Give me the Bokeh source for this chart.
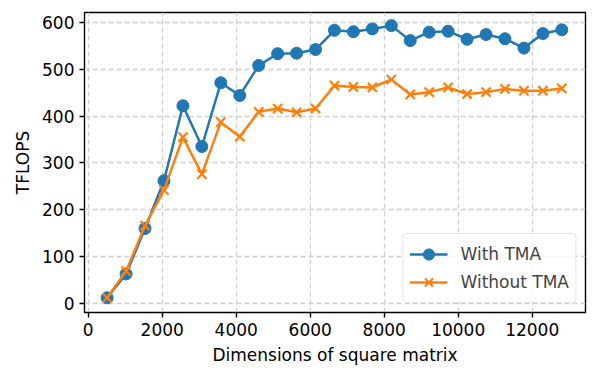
from bokeh.plotting import figure
from bokeh.models import FixedTicker, Range1d
from bokeh.embed import file_html
from bokeh.resources import INLINE

sizes = [512 * i for i in range(1, 26)]
with_tma = [12, 63, 160, 262, 422, 335, 471, 444, 508, 533, 534, 542, 583, 580,
            586, 593, 561, 579, 581, 564, 574, 565, 545, 576, 584]
without_tma = [12, 69, 166, 242, 355, 276, 387, 356, 409, 416, 408, 416, 465, 462,
               461, 478, 446, 451, 461, 447, 451, 458, 454, 454, 459]
x_ticks = [0, 2000, 4000, 6000, 8000, 10000, 12000]
y_ticks = [0, 100, 200, 300, 400, 500, 600]

BLUE = "#1f77b4"
ORANGE = "#ff7f0e"
FONT = "DejaVu Sans"
FS = "17px"

p = figure(width=597, height=375, output_backend="svg",
           toolbar_location=None,
           x_range=Range1d(-100, 13440), y_range=Range1d(-19.3, 621),
           min_border_left=84, min_border_right=12, min_border_top=12,
           min_border_bottom=63)

p.line(sizes, with_tma, color=BLUE, line_width=2.5, legend_label="With TMA")
p.scatter(sizes, with_tma, marker="circle", size=12, color=BLUE,
          legend_label="With TMA")
p.line(sizes, without_tma, color=ORANGE, line_width=2.5, legend_label="Without TMA")
p.scatter(sizes, without_tma, marker="x", size=13, line_color=ORANGE,
          line_width=2.2, legend_label="Without TMA")

for ax in (p.xaxis, p.yaxis):
    ax.major_label_text_font = FONT
    ax.major_label_text_font_size = FS
    ax.major_label_text_color = "black"
    ax.axis_label_text_font = FONT
    ax.axis_label_text_font_size = FS
    ax.axis_label_text_font_style = "normal"
    ax.axis_label_text_color = "black"
    ax.axis_line_color = None
    ax.major_tick_line_color = "black"
    ax.major_tick_line_width = 1.4
    ax.major_tick_out = 5
    ax.major_tick_in = 0
    ax.minor_tick_line_color = None
    ax.major_label_standoff = 5
    ax.axis_label_standoff = 6

p.xaxis.ticker = FixedTicker(ticks=x_ticks)
p.yaxis.ticker = FixedTicker(ticks=y_ticks)
p.xaxis.axis_label = "Dimensions of square matrix"
p.yaxis.axis_label = "TFLOPS"

p.xgrid.ticker = FixedTicker(ticks=x_ticks)
p.ygrid.ticker = FixedTicker(ticks=y_ticks)
for g in (p.xgrid, p.ygrid):
    g.grid_line_color = "#cfcfcf"
    g.grid_line_dash = "5 3"
    g.grid_line_width = 1.3

p.outline_line_color = "black"
p.outline_line_width = 1.4

p.legend.location = "bottom_right"
p.legend.label_text_font = FONT
p.legend.label_text_font_size = FS
p.legend.border_line_color = "#cccccc"
p.legend.border_line_width = 1.2
p.legend.border_radius = 4
p.legend.background_fill_alpha = 0.8
p.legend.glyph_width = 38
p.legend.glyph_height = 28
p.legend.label_height = 20
p.legend.margin = 9
p.legend.padding = 6
p.legend.spacing = -10
p.legend.label_standoff = 13

open("out.html", "w").write(file_html(p, INLINE))
